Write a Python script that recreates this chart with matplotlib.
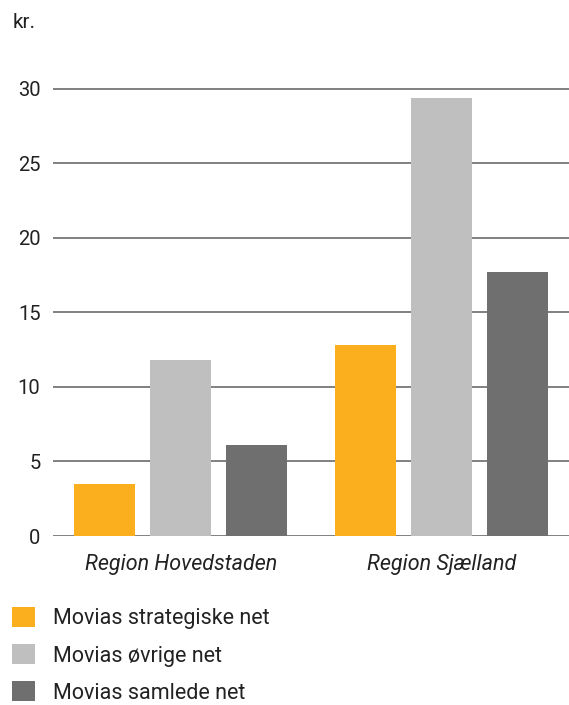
import matplotlib
matplotlib.use('Agg')
import matplotlib.pyplot as plt
import numpy as np

regions = ['Region Hovedstaden', 'Region Sjælland']
series = ['Movias strategiske net', 'Movias øvrige net', 'Movias samlede net']
strategiske = [3.5, 12.8]
oevrige = [11.8, 29.4]
samlede = [6.1, 17.7]
colors = ['#fcaf1e', '#bfbfbf', '#6f6f6f']
yticks = [0, 5, 10, 15, 20, 25, 30]

plt.rcParams['font.family'] = ['Roboto', 'DejaVu Sans']
txt = '#222222'

fig = plt.figure(figsize=(5.69, 7.05), dpi=100)
ax = fig.add_axes([53/569, 169/705, 516/569, 451.5/705])

x = np.arange(len(regions))
w = 0.234
step = 0.291
for i, (vals, name) in enumerate(zip([strategiske, oevrige, samlede], series)):
    ax.bar(x + (i-1)*step, vals, w, color=colors[i], label=name, zorder=3)

ax.set_ylim(0, 30.3)
ax.set_xlim(-0.49, 1.487)
ax.set_yticks(yticks)
ax.set_yticklabels([str(v) for v in yticks], fontsize=14.5, color=txt)
ax.set_xticks(x)
ax.set_xticklabels(regions, fontsize=15.5, style='italic', color=txt)
ax.tick_params(axis='y', length=0, pad=9)
ax.tick_params(axis='x', length=0, pad=13)
ax.grid(axis='y', color='#808080', linewidth=1.4, zorder=0)
ax.set_axisbelow(True)
for s in ax.spines.values():
    s.set_visible(False)

fig.text(13/569, 1-28/705, 'kr.', fontsize=15, color=txt, va='baseline')

fig.legend(loc='upper left', bbox_to_anchor=(12/569, 1-607/705), frameon=False,
           fontsize=15.5, handlelength=1.07, handleheight=1.07, handletextpad=0.84,
           labelspacing=0.68, borderpad=0, borderaxespad=0, labelcolor=txt)

fig.savefig('out.png', dpi=100)
